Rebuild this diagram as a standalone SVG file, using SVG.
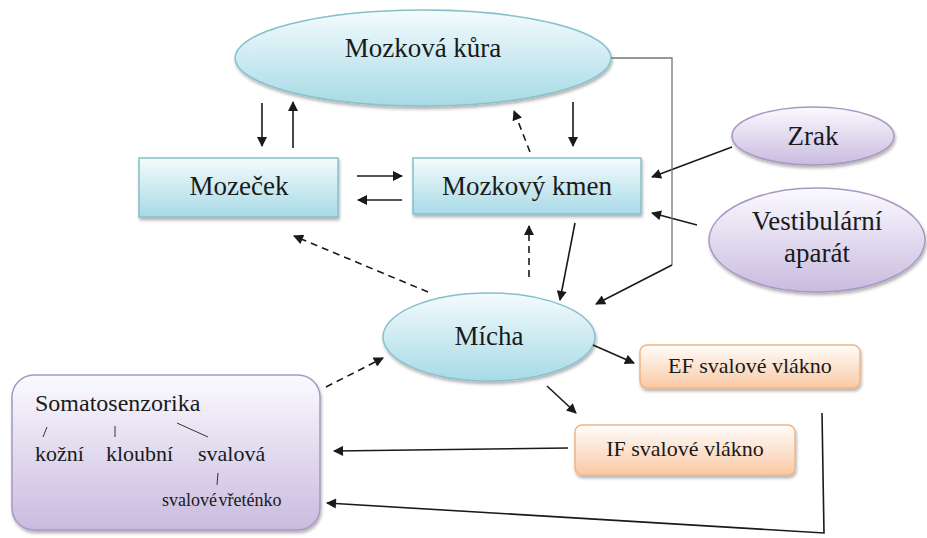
<svg xmlns="http://www.w3.org/2000/svg" width="927" height="538" viewBox="0 0 927 538">
<style>
text{fill:#1a1a1a;text-anchor:middle}
.big{font-size:27px}
.mid{font-size:22px}
.blue{fill:url(#gBlue);stroke:#86c0cc;stroke-width:1.5;filter:url(#sh)}
.purp{fill:url(#gPurp);stroke:#a897c2;stroke-width:1.5;filter:url(#sh)}
.orng{fill:url(#gOrng);stroke:#f0b587;stroke-width:1.5;filter:url(#sh)}
.c{stroke:#1a1a1a;stroke-width:1.6;fill:none;marker-end:url(#ah)}
.d{stroke-dasharray:7,5}
.g{stroke:#777;stroke-width:1.3;fill:none}
.tick{stroke:#333;stroke-width:1}
</style>
<defs>
<linearGradient id="gBlue" x1="0" y1="0" x2="0" y2="1"><stop offset="0" stop-color="#f4fbfd"/><stop offset="1" stop-color="#a7dae6"/></linearGradient>
<linearGradient id="gPurp" x1="0" y1="0" x2="0" y2="1"><stop offset="0" stop-color="#fbfaff"/><stop offset="1" stop-color="#c9bbdf"/></linearGradient>
<linearGradient id="gOrng" x1="0" y1="0" x2="0" y2="1"><stop offset="0" stop-color="#fffdfb"/><stop offset="1" stop-color="#f9c9a4"/></linearGradient>
<filter id="sh" x="-10%" y="-10%" width="130%" height="140%"><feDropShadow dx="1" dy="2.5" stdDeviation="1.5" flood-color="#000" flood-opacity="0.3"/></filter>
<marker id="ah" viewBox="0 0 10 10" refX="9" refY="5" markerWidth="11" markerHeight="10" markerUnits="userSpaceOnUse" orient="auto"><path d="M0,0 L10,5 L0,10 z" fill="#1a1a1a"/></marker>
</defs>
<g font-family="Liberation Serif, serif">
<g id="kura"><ellipse class="blue" cx="423" cy="58" rx="188" ry="48"/><text class="big" x="423" y="57">Mozková kůra</text></g>
<g id="mozecek"><rect class="blue" x="139" y="158" width="199" height="59"/><text class="big" x="239" y="195">Mozeček</text></g>
<g id="kmen"><rect class="blue" x="413" y="158" width="228" height="56"/><text class="big" x="527" y="195">Mozkový kmen</text></g>
<g id="zrak"><ellipse class="purp" cx="813" cy="136" rx="81" ry="29"/><text class="big" x="813" y="145">Zrak</text></g>
<g id="vestib"><ellipse class="purp" cx="817" cy="240" rx="108" ry="52"/><text class="big" x="817" y="230">Vestibulární</text><text class="big" x="817" y="262">aparát</text></g>
<g id="micha"><ellipse class="blue" cx="489" cy="337" rx="106" ry="44"/><text class="big" x="489" y="345">Mícha</text></g>
<g id="ef"><rect class="orng" x="640" y="345" width="220" height="43" rx="7"/><text class="mid" x="750" y="373">EF svalové vlákno</text></g>
<g id="if"><rect class="orng" x="575" y="425" width="220" height="50" rx="7"/><text class="mid" x="685" y="456">IF svalové vlákno</text></g>
<g id="somato"><rect class="purp" x="12" y="375" width="308" height="155" rx="22"/>
<text style="font-size:24px;text-anchor:start" x="35" y="411">Somatosenzorika</text>
<line class="tick" x1="47" y1="427" x2="43" y2="437"/>
<line class="tick" x1="115" y1="426" x2="115" y2="437"/>
<line class="tick" x1="177" y1="423" x2="208" y2="437"/>
<text style="font-size:22px;text-anchor:start" x="35" y="461">kožní</text>
<text style="font-size:22px;text-anchor:start" x="106" y="461">kloubní</text>
<text style="font-size:22px;text-anchor:start" x="198" y="461">svalová</text>
<line class="tick" x1="218" y1="473" x2="217" y2="485"/>
<text style="font-size:18px;text-anchor:start;word-spacing:-3px" x="162" y="506">svalové vřeténko</text>
</g>
</g>
<g id="connectors">
<line class="c" x1="262" y1="103" x2="262" y2="146"/>
<line class="c" x1="293" y1="148" x2="293" y2="102"/>
<line class="c" x1="357" y1="176" x2="402" y2="176"/>
<line class="c" x1="402" y1="200" x2="358" y2="200"/>
<line class="c" x1="573" y1="102" x2="573" y2="146"/>
<line class="c d" x1="530" y1="152" x2="514" y2="111"/>
<line class="c" x1="732" y1="147" x2="652" y2="177"/>
<line class="c" x1="697" y1="225" x2="652" y2="213"/>
<polyline class="g" points="611,58 672,58 672,265"/>
<line class="c" x1="672" y1="265" x2="596" y2="304"/>
<line class="c" x1="575" y1="223" x2="560" y2="300"/>
<line class="c d" x1="529" y1="277" x2="529" y2="226"/>
<line class="c d" x1="428" y1="292" x2="294" y2="236"/>
<line class="c d" x1="326" y1="387" x2="383" y2="358"/>
<line class="c" x1="593" y1="345" x2="634" y2="363"/>
<line class="c" x1="547" y1="386" x2="576" y2="413"/>
<line class="c" x1="568" y1="448" x2="334" y2="451"/>
<polyline class="c" points="822,413 824,533 327,503"/>
</g>
</svg>
